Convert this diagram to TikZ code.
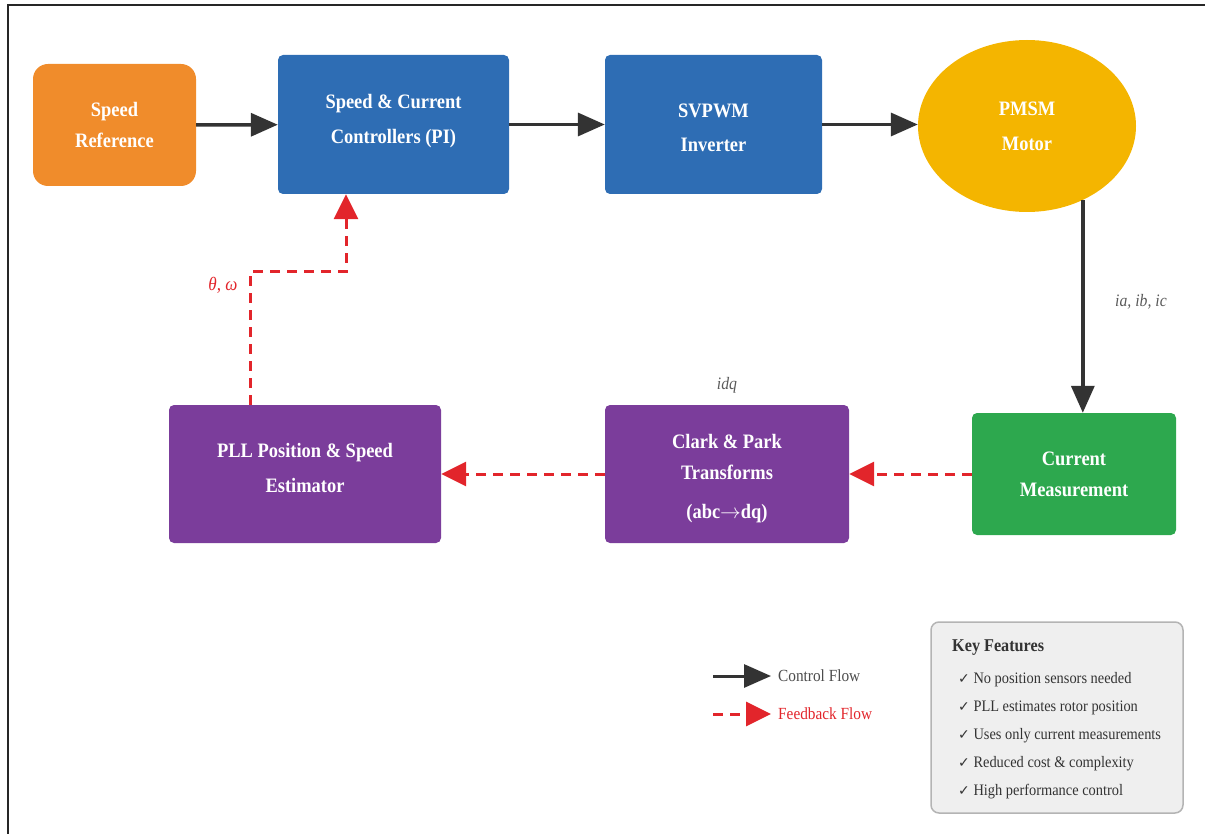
\documentclass[tikz,border=0pt]{standalone}
\usepackage{fontspec}
\setmainfont{Liberation Serif}[FakeStretch=0.9]
\newfontfamily\symfont{DejaVu Sans}
\usetikzlibrary{arrows.meta,shapes.geometric}
\definecolor{refor}{HTML}{F08C2B}
\definecolor{ctlblue}{HTML}{2E6DB4}
\definecolor{motgold}{HTML}{F4B500}
\definecolor{measgreen}{HTML}{2DA84E}
\definecolor{estpurple}{HTML}{7B3D9B}
\definecolor{fbred}{HTML}{E2252B}
\definecolor{arrgray}{HTML}{333333}
\definecolor{keyfill}{HTML}{EFEFEF}
\definecolor{keyline}{HTML}{B4B4B4}
\newcommand{\chk}{{\symfont\fontsize{14}{14}\selectfont ✓}}
\begin{document}
\begin{tikzpicture}[x=1pt,y=-1pt,
   blk/.style={rectangle,rounded corners=5pt,inner sep=0pt,align=center,text=white,
               font=\fontsize{20.5}{35}\selectfont\bfseries},
   flow/.style={draw=arrgray,line width=3.5pt,-{Triangle[length=27pt,width=23pt]}},
   fb/.style={draw=fbred,line width=3pt,dash pattern=on 10pt off 7pt,
              -{Triangle[length=25pt,width=24pt]}},
   sig/.style={font=\fontsize{17.5}{17.5}\selectfont\itshape,text=black!65},
   keytxt/.style={anchor=west,inner sep=0pt,text=black!80,font=\fontsize{16}{16}\selectfont}]
   \useasboundingbox (0,0) rectangle (1205,834);
   \draw[line width=1.5pt,black!85] (8,834) -- (8,5) -- (1205,5);
   % top row
   \node[blk,fill=refor,rounded corners=15pt,minimum width=163pt,minimum height=122pt,
         font=\fontsize{20.5}{31}\selectfont\bfseries]
      (sref) at (114.5,125) {Speed\\Reference};
   \node[blk,fill=ctlblue,minimum width=231pt,minimum height=139pt]
      (ctrl) at (393.5,124.5) {Speed \& Current\\Controllers (PI)\\[-23.5pt]\rule{0pt}{0pt}};
   \node[blk,fill=ctlblue,minimum width=217pt,minimum height=139pt,
         font=\fontsize{20.5}{34}\selectfont\bfseries]
      (svpwm) at (713.5,124.5) {\rule{0pt}{21pt}SVPWM\\Inverter};
   \node[blk,ellipse,fill=motgold,minimum width=218pt,minimum height=172pt]
      (pmsm) at (1027,126) {PMSM\\Motor};
   % bottom row
   \node[blk,fill=measgreen,minimum width=204pt,minimum height=122pt,
         font=\fontsize{20.5}{31}\selectfont\bfseries]
      (meas) at (1074,474) {Current\\Measurement};
   \node[blk,fill=estpurple,minimum width=244pt,minimum height=138pt,
         font=\fontsize{20.5}{33}\selectfont\bfseries]
      (clark) at (727,474) {\rule{0pt}{24pt}Clark \& Park\\[-2pt]Transforms\\[6pt](abc$\rightarrow$dq)};
   \node[blk,fill=estpurple,minimum width=272pt,minimum height=138pt]
      (pll) at (305,474) {PLL Position \& Speed\\Estimator\\[-22pt]\rule{0pt}{0pt}};
   % control flow
   \draw[flow] (sref) -- (ctrl);
   \draw[flow] (ctrl) -- (svpwm);
   \draw[flow] (svpwm.east) -- (svpwm.east -| pmsm.west);
   \draw[flow] (pmsm.-53.5) -- (pmsm.-53.5 |- meas.north);
   \node[sig] (iabc) at (1141,302) {ia, ib, ic};
   % feedback
   \draw[fb] (meas) -- (clark);
   \draw[fb] (clark) -- (pll.east |- clark.west);
   \node[sig] (idq) at (727,385) {idq};
   \coordinate (fbl) at (250,0);
   \coordinate (fbr) at (346,272);
   \draw[fb] (fbl |- pll.north) |- (fbr) -- (fbr |- ctrl.south);
   \node[sig,text=fbred,font=\fontsize{19}{19}\selectfont\itshape] (thw) at (223,285) {θ, ω};
   % legend
   \coordinate (lga) at (713,676);
   \coordinate (lgb) at (771,676);
   \coordinate (lgc) at (713,714);
   \coordinate (lgd) at (771,714);
   \draw[flow,line width=3pt] (lga) -- (lgb);
   \draw[fb] (lgc) -- (lgd);
   \node[anchor=west,inner sep=0pt,text=black!70,font=\fontsize{17}{17}\selectfont]
      (lgctl) at (778,676) {Control Flow};
   \node[anchor=west,inner sep=0pt,text=fbred,font=\fontsize{17}{17}\selectfont]
      (lgfb) at (778,714) {Feedback Flow};
   % key features
   \node[draw=keyline,fill=keyfill,line width=1.5pt,rounded corners=8pt,
         minimum width=252pt,minimum height=191pt] (keys) at (1057,717.5) {};
   \node[anchor=west,inner sep=0pt,text=black!80,font=\fontsize{18}{18}\selectfont\bfseries]
      (ktitle) at (952,648) {Key Features};
   \node[keytxt] (k1) at (958,680) {\chk\ No position sensors needed};
   \node[keytxt] (k2) at (958,708) {\chk\ PLL estimates rotor position};
   \node[keytxt] (k3) at (958,736) {\chk\ Uses only current measurements};
   \node[keytxt] (k4) at (958,764) {\chk\ Reduced cost \& complexity};
   \node[keytxt] (k5) at (958,792) {\chk\ High performance control};
\end{tikzpicture}
\end{document}
